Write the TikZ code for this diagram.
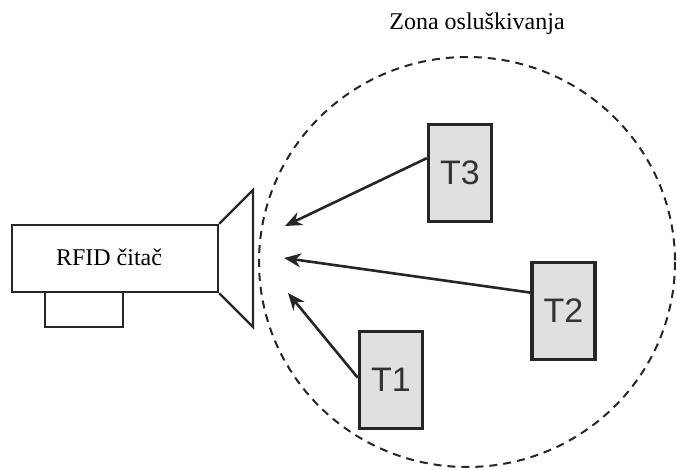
\documentclass[tikz,border=0pt]{standalone}
\usepackage{fontspec}
\setmainfont{Liberation Serif}
\newfontfamily\tagfont{Liberation Sans}
\usetikzlibrary{arrows.meta}
\begin{document}
\begin{tikzpicture}[x=1pt,y=-1pt,
  box/.style={draw=black!85,line width=2.3pt,rectangle,inner sep=0pt},
  tagbox/.style={draw=black!85,line width=3.5pt,fill=black!12,rectangle,inner sep=0pt,
    minimum width=63pt,minimum height=97pt,font=\tagfont\fontsize{34}{38}\selectfont,text=black!80},
  arr/.style={line width=2.6pt,draw=black!85,-{Stealth[length=17pt,width=14pt]}},
  lbl/.style={font=\fontsize{24}{28}\selectfont,inner sep=0pt}]
\useasboundingbox (0,0) rectangle (677,470);
% listening zone
\draw[line width=2pt,dash pattern=on 8pt off 6pt,black!85] (467,262) ellipse [x radius=208,y radius=205];
\node[lbl] (zone) at (477,24) {Zona osluškivanja};
% reader
\node[box,minimum width=206pt,minimum height=67pt] (reader) at (115,258.5) {};
\node[lbl] (readertxt) at (109,257) {RFID čitač};
\node[box,minimum width=78pt,minimum height=35pt] (base) at (84,309.5) {};
\coordinate (hornT) at (253,190);
\coordinate (hornB) at (253,327);
\draw[line width=2.3pt,black!85,line join=miter] (reader.north east) -- (hornT) -- (hornB) -- (reader.south east);
% tags
\node[tagbox] (T3) at (460,173) {T3};
\node[tagbox] (T2) at (563.5,311) {T2};
\node[tagbox] (T1) at (391,380) {T1};
% arrow tips
\coordinate (c3) at (285,226);
\coordinate (c2) at (284,258);
\coordinate (c1) at (288,293);
\draw[arr] (T3.156) -- (c3);
\draw[arr] (T2.151) -- (c2);
\draw[arr] (T1.176) -- (c1);
\end{tikzpicture}
\end{document}
